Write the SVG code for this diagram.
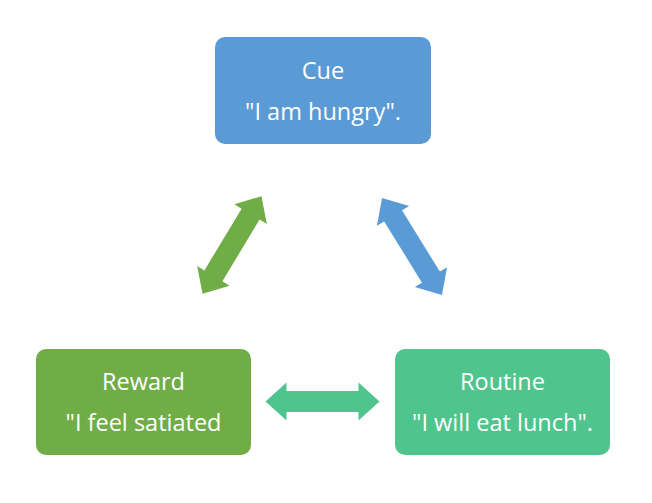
<svg xmlns="http://www.w3.org/2000/svg" width="652" height="503" viewBox="0 0 652 503">
<style>
.t{font-family:"Open Sans","Liberation Sans",sans-serif;font-size:23.5px;fill:#ffffff;text-anchor:middle}
</style>
<defs>
<path id="dbl" d="M -57 0 L -36 -19 L -36 -10.5 L 36 -10.5 L 36 -19 L 57 0 L 36 19 L 36 10.5 L -36 10.5 L -36 19 Z"/>
</defs>
<rect width="652" height="503" fill="#ffffff"/>
<g id="connectors">
<use href="#dbl" fill="#70AD47" transform="translate(232,245) rotate(-58.9)"/>
<use href="#dbl" fill="#5B9BD5" transform="translate(412,246.5) rotate(58.3)"/>
<use href="#dbl" fill="#4FC58D" transform="translate(322.5,401.5)"/>
</g>
<g id="cue">
<rect x="215" y="37" width="216" height="107" rx="10" fill="#5B9BD5"/>
<text class="t" x="323" y="79">Cue</text>
<text class="t" x="323" y="120">"I am hungry".</text>
</g>
<g id="reward">
<rect x="36" y="349" width="215" height="106" rx="10" fill="#70AD47"/>
<text class="t" x="143.5" y="390">Reward</text>
<text class="t" x="143.5" y="431">"I feel satiated</text>
</g>
<g id="routine">
<rect x="395" y="349" width="215" height="106" rx="10" fill="#4FC58D"/>
<text class="t" x="502.5" y="390">Routine</text>
<text class="t" x="502.5" y="431">"I will eat lunch".</text>
</g>
</svg>
